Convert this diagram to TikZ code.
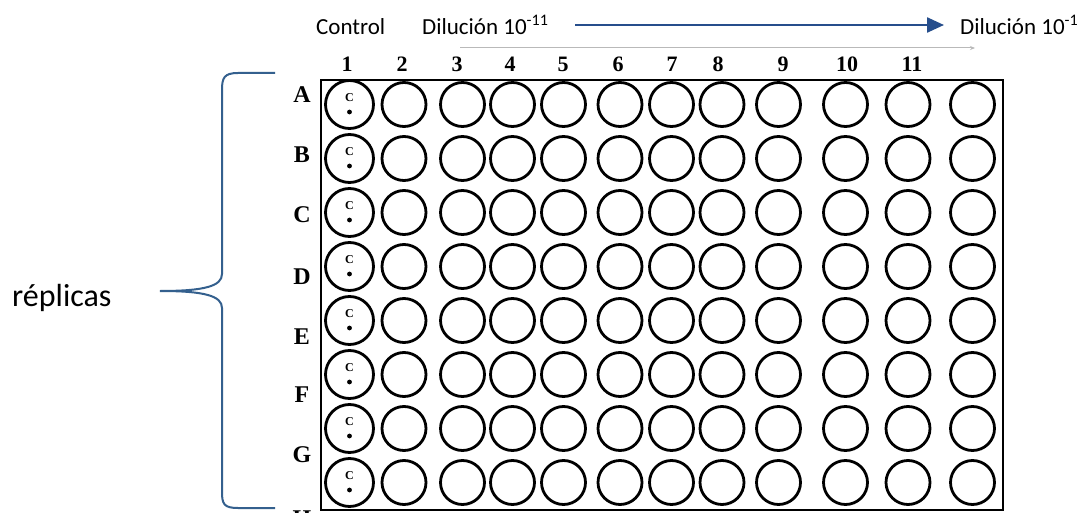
\documentclass[tikz,border=0pt]{standalone}
\usepackage{fontspec}
\setmainfont{Carlito}
\newfontfamily\platefont{Liberation Serif}
\usetikzlibrary{arrows.meta}

\definecolor{dilblue}{RGB}{38,78,140}
\definecolor{braceblue}{RGB}{52,96,142}

\tikzset{
	well/.style={draw,circle,line width=2.8pt,minimum size=44pt,inner sep=0pt},
	ctrlwell/.style={well,minimum size=48pt},
	collabel/.style={font=\platefont\bfseries\fontsize{22}{22}\selectfont,anchor=base,inner sep=0pt},
	rowlabel/.style={font=\platefont\bfseries\fontsize{24}{24}\selectfont,inner sep=0pt},
	toptext/.style={font=\fontsize{23}{27}\selectfont,anchor=base west,inner sep=0pt}
}

\begin{document}
\begin{tikzpicture}[x=1pt,y=-1pt]
		\useasboundingbox[fill=white] (0,0) rectangle (1089,513);

		% titles over the plate
		\node[toptext] (ctrl) at (316,35) {Control};
		\node[toptext] (dil11) at (422,35) {Dilución 10\textsuperscript{-11}};
		\node[toptext] (dil1) at (960,35) {Dilución 10\textsuperscript{-1}};
		\coordinate (a0) at (575,25);
		\coordinate (a1) at (944,25);
		\draw[dilblue,line width=2.4pt,-{Triangle[length=17pt,width=15pt]}] (a0) -- (a1);
		\coordinate (g0) at (460,48);
		\coordinate (g1) at (975,48);
		\draw[gray!55,line width=1pt,-{Stealth[length=5pt,width=4pt]}] (g0) -- (g1);

		% plate
		\draw[line width=2.6pt] (321,80) rectangle (1003,510);

		% column numbers
		\foreach \n/\x in {1/347,2/402,3/457,4/510,5/563,6/618,7/672,8/718,9/783,10/847,11/912}
			\node[collabel] (c\n) at (\x,72) {\n};

		% row letters
		\foreach \r/\y in {A/95,B/155,C/215,D/277,E/337,F/395,G/455,H/519}
			\node[rowlabel] (r\r) at (302,\y) {\r};

		% wells
		\foreach \r [count=\i from 0] in {A,B,C,D,E,F,G,H}{
			\node[ctrlwell] (\r1) at (349.5,104.5+54*\i) {};
			\node[font=\platefont\bfseries\fontsize{12}{12}\selectfont,inner sep=0pt] (\r1c) at (349.5,98+54*\i) {C};
			\fill (349.5,112+54*\i) circle (2.4pt);
			\foreach \c/\x in {2/404,3/462.5,4/512.5,5/563.5,6/620,7/671.5,8/722,9/778.5,10/845.5,11/908,12/972.5}
				\node[well] (\r\c) at (\x,104.5+54*\i) {};
		}

		% replicas brace
		\node[font=\fontsize{32}{36}\selectfont,anchor=west,inner sep=0pt] (rep) at (12,298) {réplicas};
		\coordinate (btop) at (275,73);
		\coordinate (btip) at (160,291);
		\coordinate (bbot) at (275,508);
		\draw[braceblue,line width=2pt] (btop) -- (238,73) .. controls (224,73) and (222,78) .. (222,90)
			-- (222,274) .. controls (222,286) and (205,291) .. (btip)
			.. controls (205,291) and (222,296) .. (222,308)
			-- (222,492) .. controls (222,504) and (224,508) .. (238,508) -- (bbot);
	\end{tikzpicture}
\end{document}
